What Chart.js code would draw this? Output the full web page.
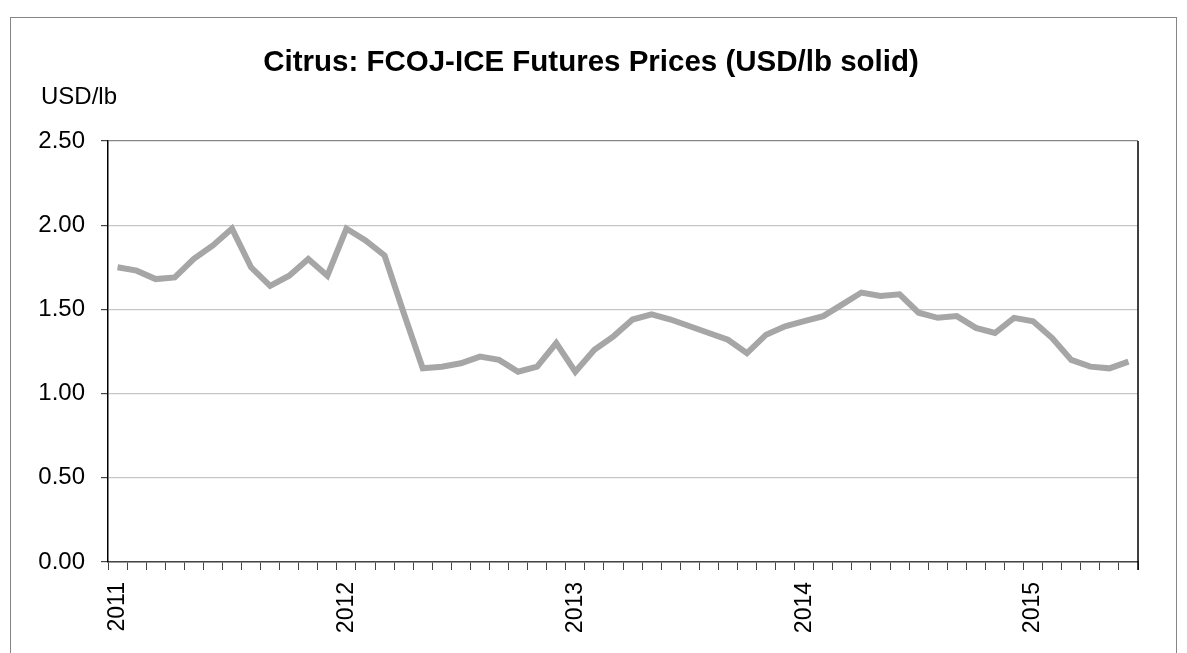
<!DOCTYPE html>
<html>
<head>
<meta charset="utf-8">
<script src="https://cdn.jsdelivr.net/npm/chart.js@4"></script>
<style>
  body { margin: 0; background: #fff; }
  #wrap { width: 1187px; height: 653px; }
</style>
</head>
<body>
<div id="wrap"><canvas id="chart" width="1187" height="653"></canvas></div>
<script>
// tick labels on the x axis (one per January), monthly data Jan 2011 - Jun 2015
const years = ['2011', '2012', '2013', '2014', '2015']
const monthsInYear = [12, 12, 12, 12, 6]

// FCOJ-ICE futures, USD/lb solid, monthly
const prices = [
  1.75, 1.73, 1.68, 1.69, 1.80, 1.88, 1.98, 1.75, 1.64, 1.70, 1.80, 1.70,
  1.98, 1.91, 1.82, 1.48, 1.15, 1.16, 1.18, 1.22, 1.20, 1.13, 1.16, 1.30,
  1.13, 1.26, 1.34, 1.44, 1.47, 1.44, 1.40, 1.36, 1.32, 1.24, 1.35, 1.40,
  1.43, 1.46, 1.53, 1.60, 1.58, 1.59, 1.48, 1.45, 1.46, 1.39, 1.36, 1.45,
  1.43, 1.33, 1.20, 1.16, 1.15, 1.19
]

const yTicks = [0, 0.5, 1.0, 1.5, 2.0, 2.5]

const labels = []
years.forEach((y, i) => {
  for (let m = 0; m < monthsInYear[i]; m++) labels.push(m === 0 ? y : '')
})

const FONT = "'Liberation Sans', Arial, sans-serif"

const decorations = {
  id: 'decorations',
  beforeDraw(chart) {
    const ctx = chart.ctx
    ctx.save()
    ctx.fillStyle = '#fff'
    ctx.fillRect(0, 0, chart.width, chart.height)
    ctx.strokeStyle = '#858585'
    ctx.lineWidth = 1
    ctx.strokeRect(10.5, 17.5, 1166, 700)
    ctx.restore()
  },
  afterDraw(chart) {
    const ctx = chart.ctx
    const area = chart.chartArea
    ctx.save()
    ctx.fillStyle = '#000'
    ctx.textBaseline = 'middle'
    ctx.textAlign = 'center'
    ctx.font = "bold 29.5px " + FONT
    ctx.fillText('Citrus: FCOJ-ICE Futures Prices (USD/lb solid)', 591, 63)
    ctx.textAlign = 'left'
    ctx.font = "24px " + FONT
    ctx.fillText('USD/lb', 41, 97)
    // right border of plot area
    ctx.strokeStyle = '#000'
    ctx.lineWidth = 1.5
    ctx.beginPath()
    ctx.moveTo(area.right, area.top)
    ctx.lineTo(area.right, area.bottom + 8)
    ctx.stroke()
    ctx.restore()
  }
}

new Chart(document.getElementById('chart'), {
  type: 'line',
  data: {
    labels: labels,
    datasets: [{
      data: prices,
      borderColor: '#a6a6a6',
      borderWidth: 6,
      pointRadius: 0,
      tension: 0,
      fill: false
    }]
  },
  options: {
    responsive: false,
    animation: false,
    layout: {
      padding: { top: 141, right: 49, left: 0, bottom: 0 }
    },
    plugins: {
      legend: { display: false },
      tooltip: { enabled: false }
    },
    scales: {
      x: {
        offset: true,
        afterFit(scale) { scale.height = 91 },
        grid: {
          offset: true,
          drawOnChartArea: false,
          tickLength: 8,
          tickColor: '#444',
          color: '#444'
        },
        border: { color: '#444', width: 1.5 },
        ticks: {
          autoSkip: false,
          minRotation: 90,
          maxRotation: 90,
          padding: 12,
          color: '#000',
          font: { family: FONT, size: 23 }
        }
      },
      y: {
        min: 0,
        max: 2.5,
        afterFit(scale) { scale.width = 108 },
        afterBuildTicks(scale) { scale.ticks = yTicks.map(v => ({ value: v })) },
        grid: {
          tickLength: 7,
          tickColor: '#444',
          color: ctx => ctx.tick && ctx.tick.value === 2.5 ? '#888' : '#c6c6c6',
          lineWidth: 1.2
        },
        border: { color: '#000', width: 1.5 },
        ticks: {
          padding: 16,
          color: '#000',
          font: { family: FONT, size: 24 },
          callback: v => v.toFixed(2)
        }
      }
    }
  },
  plugins: [decorations]
})
</script>
</body>
</html>
